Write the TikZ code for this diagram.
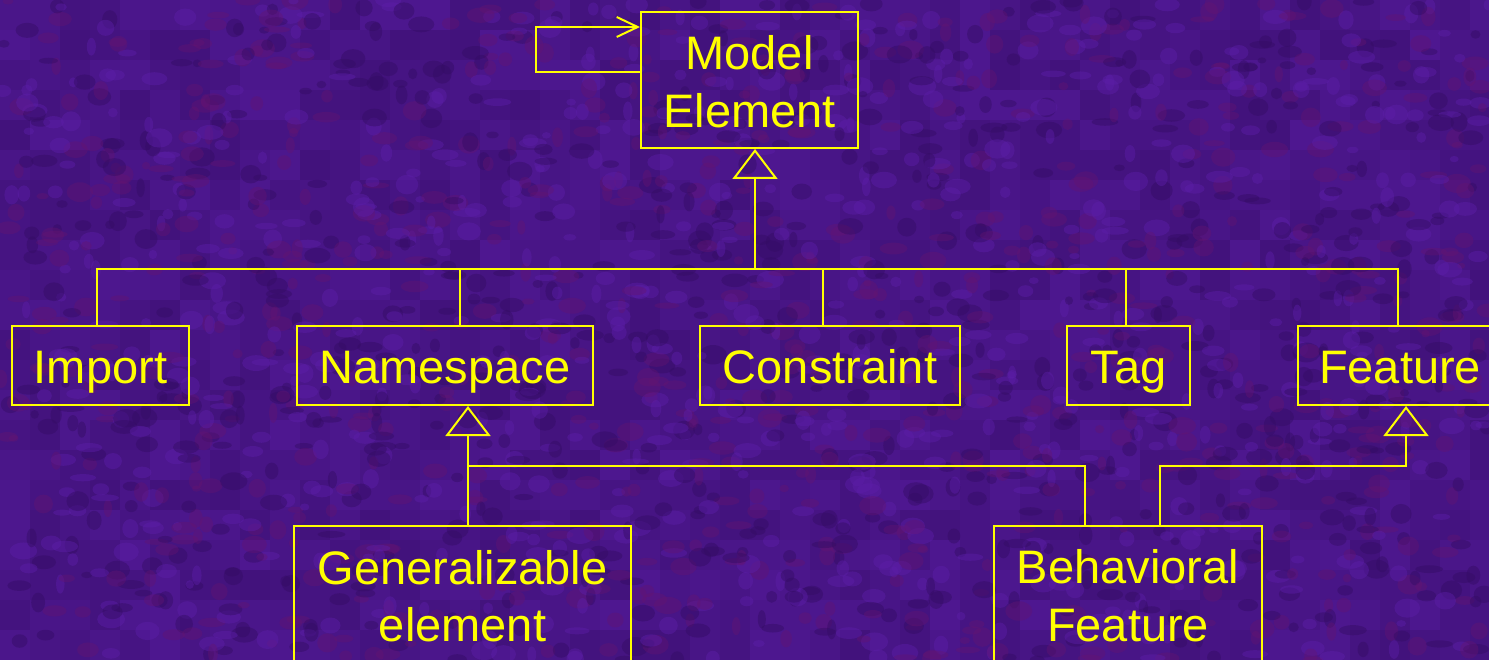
\documentclass[tikz,border=0pt]{standalone}
\usepackage{fontspec}
\setmainfont{Liberation Sans}
\usetikzlibrary{arrows.meta}
\definecolor{bglight}{RGB}{92,30,168}
\definecolor{bgdark}{RGB}{52,12,100}
\definecolor{bgred}{RGB}{100,20,112}
\definecolor{bgbase}{RGB}{72,20,136}
\definecolor{umlyellow}{RGB}{255,255,0}
\tikzset{
  umlbox/.style={draw=umlyellow, line width=2pt, inner sep=0pt, rectangle},
  umltext/.style={text=umlyellow, font=\fontsize{47}{56}\selectfont, anchor=base, inner sep=0pt},
  wire/.style={draw=umlyellow, line width=2pt},
  gen/.style={wire, -{Triangle[open, length=30pt, width=45pt]}},
  selfref/.style={wire, -{Straight Barb[length=21pt, width=20pt]}},
}
\begin{document}
\begin{tikzpicture}[x=1pt,y=-1pt]
\useasboundingbox (0,0) rectangle (1489,660);
% mottled purple backdrop
\begin{scope}
\clip (0,0) rectangle (1489,660);
\fill[bgbase] (0,0) rectangle (1489,660);
\pgfmathsetseed{11}
\foreach \i in {0,...,49} {
  \foreach \j in {0,...,21} {
    \pgfmathsetmacro\p{int(35+30*rnd)}
    \fill[bglight!\p!bgdark] (\i*30,\j*30) rectangle ++(30,30);
  }
}
\foreach \k in {1,...,2200} {
  \pgfmathsetmacro\bx{1489*rnd}
  \pgfmathsetmacro\by{660*rnd}
  \pgfmathsetmacro\rx{4+10*rnd}
  \pgfmathsetmacro\ry{3+7*rnd}
  \pgfmathsetmacro\pick{int(3*rnd)}
  \ifcase\pick
    \fill[bgdark, opacity=0.45] (\bx,\by) ellipse [x radius=\rx, y radius=\ry];
  \or
    \fill[bglight, opacity=0.45] (\bx,\by) ellipse [x radius=\rx, y radius=\ry];
  \else
    \fill[bgred, opacity=0.4] (\bx,\by) ellipse [x radius=\rx, y radius=\ry];
  \fi
}
\end{scope}

% classes
\node[umlbox, minimum width=217pt, minimum height=136pt] (me) at (749.5,80) {};
\node[umltext] (me-l1) at (749.5,70) {Model};
\node[umltext] (me-l2) at (749.5,128) {Element};

\node[umlbox, minimum width=177pt, minimum height=79pt] (import) at (100.5,365.5) {};
\node[umltext] (import-l) at (100.5,383) {Import};

\node[umlbox, minimum width=296pt, minimum height=79pt] (ns) at (445,365.5) {};
\node[umltext] (ns-l) at (445,383) {Namespace};

\node[umlbox, minimum width=260pt, minimum height=79pt] (con) at (830,365.5) {};
\node[umltext] (con-l) at (830,383) {Constraint};

\node[umlbox, minimum width=123pt, minimum height=79pt] (tag) at (1128.5,365.5) {};
\node[umltext] (tag-l) at (1128.5,383) {Tag};

\node[umlbox, minimum width=204pt, minimum height=79pt] (feat) at (1400,365.5) {};
\node[umltext] (feat-l) at (1400,383) {Feature};

\node[umlbox, minimum width=337pt, minimum height=150pt] (ge) at (462.5,601) {};
\node[umltext] (ge-l1) at (462.5,584) {Generalizable};
\node[umltext] (ge-l2) at (462.5,641) {element};

\node[umlbox, minimum width=268pt, minimum height=150pt] (bf) at (1128,601) {};
\node[umltext] (bf-l1) at (1128,583) {Behavioral};
\node[umltext] (bf-l2) at (1128,641) {Feature};

% self association on Model Element
\coordinate (loop) at (536,27);
\draw[selfref] (me.west |- 0,72) -| (loop) -- (me.west |- loop);

% generalization tree under Model Element
\coordinate (bus-me) at (755,269);
\coordinate (bus-imp) at (97,269);
\coordinate (bus-ns) at (460,269);
\coordinate (bus-con) at (823,269);
\coordinate (bus-tag) at (1126,269);
\coordinate (bus-feat) at (1398,269);
\draw[gen] (bus-me) -- (bus-me |- me.south);
\draw[wire] (bus-imp |- import.north) -- (bus-imp) -- (bus-feat) -- (bus-feat |- feat.north);
\draw[wire] (bus-ns) -- (bus-ns |- ns.north);
\draw[wire] (bus-con) -- (bus-con |- con.north);
\draw[wire] (bus-tag) -- (bus-tag |- tag.north);

% generalizations to Namespace and Feature
\coordinate (jn-ns) at (468,466);
\coordinate (jn-bf) at (1085,466);
\coordinate (jf-bf) at (1160,466);
\coordinate (jf-feat) at (1406,466);
\draw[gen] (jn-ns |- ge.north) -- (jn-ns |- ns.south);
\draw[wire] (jn-ns) -- (jn-bf) -- (jn-bf |- bf.north);
\draw[gen] (jf-bf |- bf.north) -- (jf-bf) -- (jf-feat) -- (jf-feat |- feat.south);
\end{tikzpicture}
\end{document}
